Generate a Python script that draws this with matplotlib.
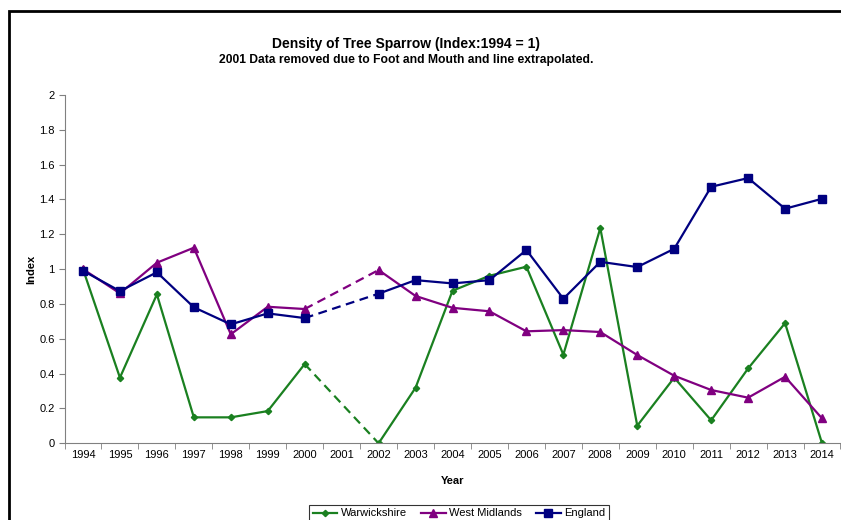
import numpy as np
import matplotlib.pyplot as plt
from matplotlib.patches import Rectangle

plt.rcParams['font.family'] = ['Liberation Sans', 'DejaVu Sans']

years = [str(y) for y in range(1994, 2015)]

# 2001 has no survey data (foot and mouth)
warwickshire = [1.0, 0.377, 0.855, 0.149, 0.149, 0.185, 0.455, np.nan, 0.0, 0.319, 0.876,
                0.962, 1.014, 0.509, 1.236, 0.101, 0.377, 0.132, 0.43, 0.69, 0.0]
west_midlands = [1.0, 0.861, 1.037, 1.123, 0.626, 0.784, 0.771, np.nan, 0.995, 0.846, 0.778,
                 0.758, 0.643, 0.65, 0.639, 0.507, 0.388, 0.306, 0.262, 0.382, 0.143]
england = [0.991, 0.874, 0.982, 0.781, 0.683, 0.746, 0.719, np.nan, 0.859, 0.937, 0.918,
           0.937, 1.11, 0.83, 1.042, 1.012, 1.117, 1.473, 1.523, 1.347, 1.404]

series = [
    ("Warwickshire", warwickshire, "#1a8020", "D", 3.2),
    ("West Midlands", west_midlands, "#800080", "^", 5.5),
    ("England", england, "#000080", "s", 5.5),
]

fig = plt.figure(figsize=(8.41, 5.2), dpi=100)
ax = fig.add_axes([64.5 / 841, 76.7 / 520, 776 / 841, 348.3 / 520])

x = np.arange(len(years))
gap = years.index("2001")
for name, vals, col, mk, ms in series:
    vals = np.array(vals, dtype=float)
    ax.plot(x, vals, color=col, lw=1.6, marker=mk, ms=ms, label=name)
    # bridge the missing year with a dashed line
    ax.plot([gap - 1, gap + 1], [vals[gap - 1], vals[gap + 1]], color=col,
            lw=1.6, ls=(0, (4, 2.5)))

ax.set_xlim(-0.5, len(years) - 0.5)
ax.set_ylim(0, 2)
ax.set_yticks(np.arange(0, 2.01, 0.2))
ax.set_yticklabels(["0", "0.2", "0.4", "0.6", "0.8", "1", "1.2", "1.4", "1.6", "1.8", "2"])
ax.set_xticks(x)
ax.set_xticklabels(years)
ax.set_xticks(np.arange(-0.5, len(years), 1), minor=True)
ax.tick_params(axis='x', which='major', length=0, pad=5, labelsize=8)
ax.tick_params(axis='x', which='minor', length=4, color='#808080', direction='out')
ax.tick_params(axis='y', length=4, color='#808080', labelsize=8, pad=3)

for s in ['top', 'right']:
    ax.spines[s].set_visible(False)
for s in ['left', 'bottom']:
    ax.spines[s].set_color('#808080')

ax.set_xlabel("Year", fontsize=8, fontweight='bold', labelpad=11)
ax.set_ylabel("Index", fontsize=8, fontweight='bold', labelpad=2)

fig.text(406 / 841, 1 - 44 / 520, "Density of Tree Sparrow (Index:1994 = 1)",
         ha='center', va='center', fontsize=10, fontweight='bold')
fig.text(406 / 841, 1 - 60 / 520, "2001 Data removed due to Foot and Mouth and line extrapolated.",
         ha='center', va='center', fontsize=8.7, fontweight='bold')

handles = [ax.lines[i * 2] for i in range(3)]
leg = fig.legend(handles, [s[0] for s in series], loc='upper center', ncol=3,
                 bbox_to_anchor=(459 / 841, 1 - 499 / 520), fontsize=8, frameon=True,
                 fancybox=False, edgecolor='black', handlelength=2.2, columnspacing=1.3,
                 handletextpad=0.3, borderpad=0.35)
leg.get_frame().set_linewidth(0.8)

fig.patches.append(Rectangle((8.5 / 841, -0.1), 1.2, 1 - 10.5 / 520 + 0.1,
                             transform=fig.transFigure, fill=False, ec='black', lw=2))

fig.savefig("out.png", dpi=100)
